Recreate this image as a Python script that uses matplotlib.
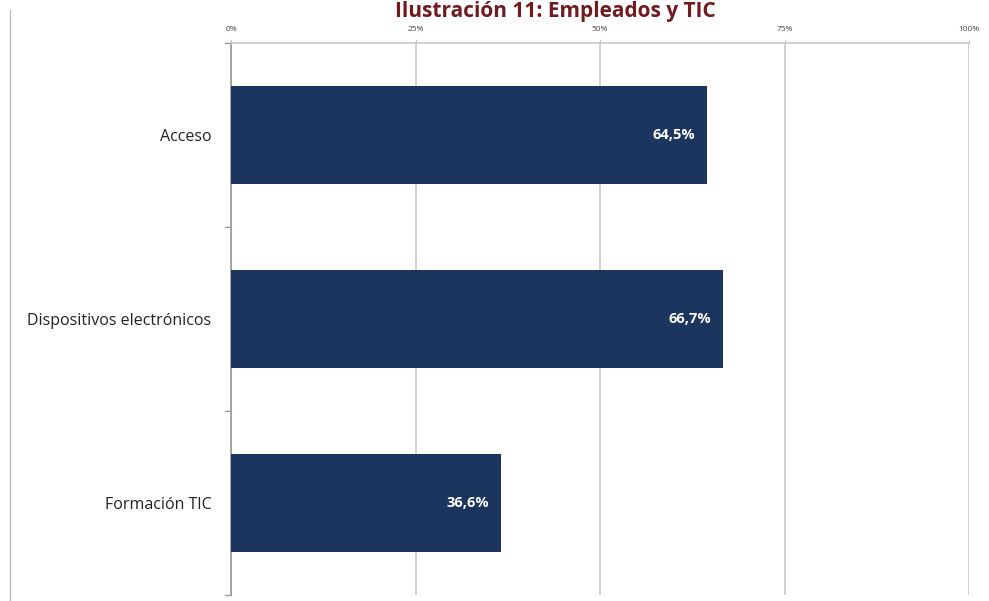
import matplotlib.pyplot as plt
from matplotlib.lines import Line2D

# Data
categories = ["Acceso", "Dispositivos electrónicos", "Formación TIC"]
values = [64.5, 66.7, 36.6]
value_labels = ["64,5%", "66,7%", "36,6%"]
ticks = [0, 25, 50, 75, 100]
tick_labels = ["0%", "25%", "50%", "75%", "100%"]

bar_color = "#1b355f"
grid_color = "#c8c8c8"

fig = plt.figure(figsize=(9.89, 6.01), dpi=100)
ax = fig.add_axes([231 / 989, 0.01, 738 / 989, 0.9185])

y = list(range(len(categories)))
ax.barh(y, values, height=0.53, color=bar_color, zorder=3)
ax.set_ylim(len(categories) - 0.5, -0.5)
ax.set_xlim(0, 100)

# data labels inside the bars
for yi, v, lab in zip(y, values, value_labels):
    ax.text(v - 1.6, yi, lab, ha="right", va="center", color="white",
            fontsize=10.5, fontweight="bold", family="Open Sans", zorder=4)

# x axis on top
ax.xaxis.tick_top()
ax.set_xticks(ticks)
ax.set_xticklabels(tick_labels, fontsize=6, color="#444444", family="Open Sans")
ax.tick_params(axis="x", length=3, color=grid_color, pad=4)
ax.grid(axis="x", color=grid_color, linewidth=1.2, zorder=0)

# category labels and separators
ax.set_yticks(y)
ax.set_yticklabels(categories, fontsize=11.5, color="#222222", family="Open Sans")
ax.tick_params(axis="y", length=0, pad=14)
for b in [-0.5, 0.5, 1.5, 2.5]:
    ax.plot([-0.008, 0], [b, b], transform=ax.get_yaxis_transform(),
            color="#999999", linewidth=1, clip_on=False)

for s in ["right", "bottom"]:
    ax.spines[s].set_visible(False)
ax.spines["top"].set_color(grid_color)
ax.spines["top"].set_linewidth(1.2)
ax.spines["left"].set_color("#999999")
ax.spines["left"].set_linewidth(1.2)

# title
fig.text(555 / 989, 1 - 17 / 601, "Ilustración 11: Empleados y TIC", ha="center",
         va="baseline", fontsize=15, fontweight="bold", color="#6e1c1f",
         family="Open Sans")

# left frame line
fig.add_artist(Line2D([10 / 989, 10 / 989], [0, 1 - 10 / 601],
                      color="#bbbbbb", linewidth=1))

fig.savefig("out.png", dpi=100)
